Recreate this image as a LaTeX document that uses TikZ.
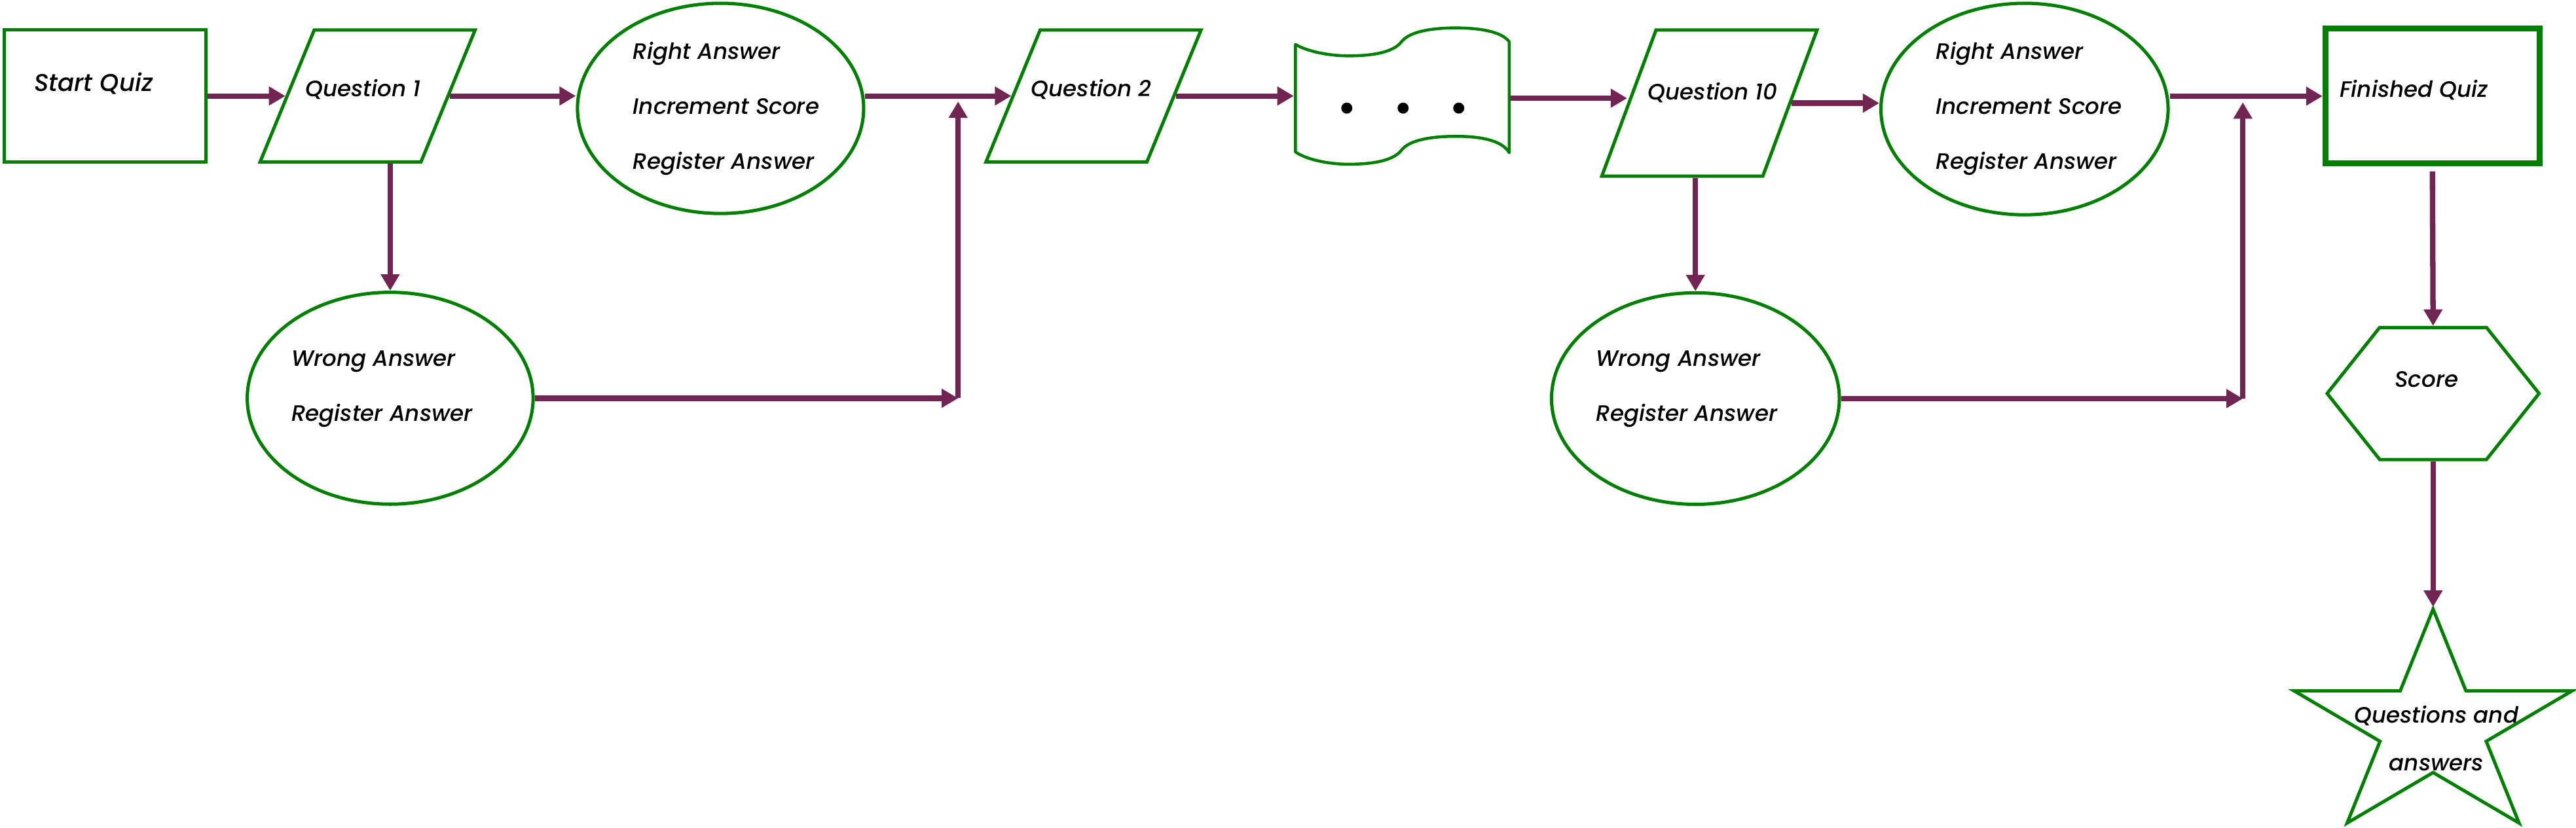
\documentclass[tikz,border=0pt]{standalone}
\usepackage{fontspec}
\setmainfont{Poppins}[UprightFont=* Medium, ItalicFont=* Medium Italic]
\usetikzlibrary{shapes.geometric,arrows.meta,calc}
\definecolor{grn}{RGB}{0,128,0}
\definecolor{arrc}{RGB}{114,37,82}
\tikzset{
  box/.style={draw=grn, line width=2pt, inner sep=0pt, outer sep=1pt},
  para/.style={box, trapezium, minimum width=0pt, minimum height=0pt},
  oval/.style={box, ellipse},
  txt/.style={font=\fontsize{13.6}{33.5}\selectfont\itshape, inner sep=0pt, align=left, text=black},
  arr/.style={draw=arrc, line width=3.3pt, -{Triangle[length=10pt,width=11pt]}},
  ghost/.style={inner sep=0pt, outer sep=0pt}
}
\begin{document}
\begin{tikzpicture}[x=1pt,y=-1pt]
\fill[white] (0,0) rectangle (1568,503.8);
\useasboundingbox (0,0) rectangle (1568,503.8);

% nodes
\node[box, minimum width=122.5pt, minimum height=80.3pt,
  label={[txt,font=\fontsize{14.8}{33.5}\selectfont\itshape,xshift=-7pt,yshift=7.5pt]center:Start Quiz}] (start) at (64,58.45) {};
\node[para, trapezium left angle=67.7, trapezium right angle=112.3,
  label={[txt,xshift=-2.75pt,yshift=4pt]center:Question 1}] (q1) at (223.75,58.45) {\rule{65pt}{0pt}\rule{0pt}{80.3pt}};
\node[oval, minimum width=174.2pt, minimum height=128pt,
  label={[txt,xshift=3.4pt,yshift=0pt]center:{Right Answer\\Increment Score\\Register Answer}}] (ra1) at (438.6,66) {};
\node[oval, minimum width=174pt, minimum height=129pt,
  label={[txt,xshift=-5pt,yshift=5.8pt]center:{Wrong Answer\\Register Answer}}] (wa1) at (237.5,242.5) {};
\node[para, trapezium left angle=67.7, trapezium right angle=112.3,
  label={[txt,xshift=-1.3pt,yshift=4pt]center:Question 2}] (q2) at (665.6,58.45) {\rule{65pt}{0pt}\rule{0pt}{80.3pt}};

% tape with dots
\node[ghost, outer sep=1pt, minimum width=130.2pt, minimum height=66pt] (dots) at (853.6,59.8) {};
\draw[grn, line width=1.8pt, line join=round]
  (788.5,27) .. controls (795,31) and (808,34) .. (821,34)
  .. controls (835,34) and (848,32) .. (853,25.5)
  .. controls (858,19) and (872,17) .. (886,17)
  .. controls (900,17) and (914,19) .. (918.7,25.5)
  -- (918.7,93)
  .. controls (914,85) and (900,83) .. (886,83)
  .. controls (872,83) and (858,85) .. (853,91.5)
  .. controls (848,98) and (835,100) .. (821,100)
  .. controls (808,100) and (795,97) .. (788.5,92.5) -- cycle;
\node[ghost, font=\fontsize{16}{16}\selectfont] (dotstxt) at (854.2,66.4)
  {$\bullet$\hspace{25.4pt}$\bullet$\hspace{25.4pt}$\bullet$};

\node[para, trapezium left angle=69.65, trapezium right angle=110.35,
  label={[txt,xshift=2.1pt,yshift=6.2pt]center:Question 10}] (q10) at (1040.5,62.8) {\rule{65pt}{0pt}\rule{0pt}{89pt}};
\node[oval, minimum width=174.8pt, minimum height=128.8pt,
  label={[txt,xshift=2.7pt,yshift=0.4pt]center:{Right Answer\\Increment Score\\Register Answer}}] (ra2) at (1232.3,66.4) {};
\node[oval, minimum width=175.2pt, minimum height=128.8pt,
  label={[txt,xshift=-5.3pt,yshift=6pt]center:{Wrong Answer\\Register Answer}}] (wa2) at (1032,242.7) {};
\node[box, line width=3.6pt, outer sep=1.8pt, minimum width=130.2pt, minimum height=82.1pt,
  label={[txt,xshift=-11.2pt,yshift=3.6pt]center:Finished Quiz}] (finished) at (1480.6,58.55) {};

% hexagon
\node[ghost, minimum width=129pt, minimum height=80.4pt,
  label={[txt,xshift=-4pt,yshift=8.4pt]center:Score}] (score) at (1481,239.6) {};
\draw[grn, line width=2pt] (score.west) -- ([xshift=32pt]score.north west) -- ([xshift=-32pt]score.north east)
  -- (score.east) -- ([xshift=-32pt]score.south east) -- ([xshift=32pt]score.south west) -- cycle;

% star
\begin{scope}[shift={(1481,442.9)}, xscale=89, yscale=-72]
  \draw[grn, line width=2pt] (90:1) -- (126:0.382) -- (162:1) -- (198:0.382) -- (234:1) -- (270:0.382)
    -- (306:1) -- (342:0.382) -- (18:1) -- (54:0.382) -- cycle;
\end{scope}
\coordinate (startop) at (1481,369.5);
\node[txt, align=center, font=\fontsize{13.6}{29}\selectfont\itshape] (startxt) at (1483,449.5) {Questions and\\answers};

% junction coordinates
\coordinate (j1) at (583.2,242.5);
\coordinate (m1) at (583.2,61.8);
\coordinate (j2) at (1365.2,242.7);
\coordinate (m2) at (1365.2,62.3);

% connectors
\draw[arr] (start.east) -- (start.east -| q1.left side);
\draw[arr] (q1.right side) -- (q1.right side -| ra1.west);
\draw[arr] (q1.bottom side -| wa1.north) -- (wa1.north);
\draw[arr] (q2.left side -| ra1.east) -- (q2.left side);
\draw[arr] (wa1.east) -- (j1);
\draw[arr] (j1) -- (m1);
\draw[arr] (q2.right side) -- (q2.right side -| dots.west);
\draw[arr] (dots.east) -- (dots.east -| q10.left side);
\draw[arr] (q10.right side) -- (q10.right side -| ra2.west);
\draw[arr] (q10.bottom side -| wa2.north) -- (wa2.north);
\draw[arr] (finished.west -| ra2.east) -- (finished.west);
\draw[arr] (wa2.east) -- (j2);
\draw[arr] (j2) -- (m2);
\draw[arr] ([yshift=-3pt]finished.south) -- ([yshift=1pt]score.north);
\draw[arr] ([yshift=-1pt]score.south) -- (startop);
\end{tikzpicture}
\end{document}
